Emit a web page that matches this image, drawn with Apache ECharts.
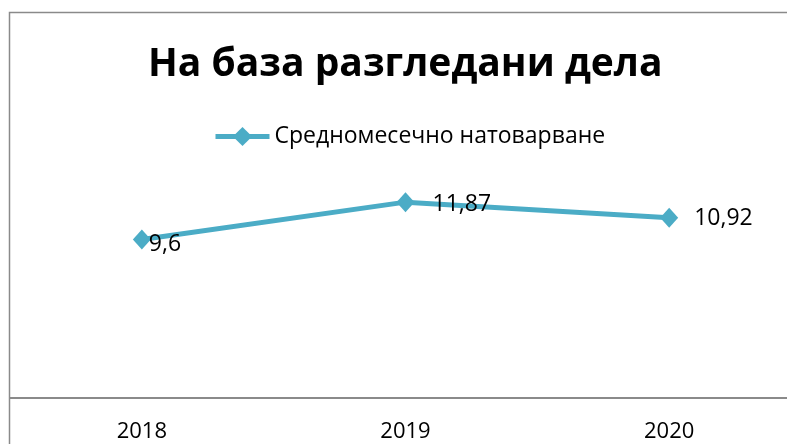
<!DOCTYPE html>
<html>
<head>
<meta charset="utf-8">
<script src="https://cdn.jsdelivr.net/npm/echarts@6/dist/echarts.min.js"></script>
<style>
  html, body { margin: 0; padding: 0; background: #fff; }
  #chart { width: 787px; height: 444px; }
</style>
</head>
<body>
<div id="chart"></div>
<script>
const years = ["2018", "2019", "2020"];
const loadValues = [9.6, 11.87, 10.92];
const seriesName = "Средномесечно натоварване";
const chartTitle = "На база разгледани дела";

const fontFamily = "'Open Sans', 'Noto Sans', sans-serif";
const lineColor = "#4BACC6";

// excel places the labels a bit unevenly
const labelPlacement = [
    { distance: -2, offset: [0, 5] },
    { distance: 18, offset: [0, 2] },
    { distance: 16, offset: [0, 1] }
];

const chart = echarts.init(document.getElementById("chart"));

const option = {
    backgroundColor: "#ffffff",
    animation: false,
    title: {
        text: chartTitle,
        left: 143,
        top: 40,
        textStyle: {
            fontFamily: fontFamily,
            fontWeight: "bold",
            fontSize: 39,
            color: "#000"
        }
    },
    legend: {
        top: 120,
        left: 208,
        itemWidth: 54,
        itemHeight: 24,
        itemGap: 4,
        lineStyle: { width: 5 },
        textStyle: {
            fontFamily: fontFamily,
            fontSize: 23,
            color: "#000"
        },
        data: [seriesName]
    },
    grid: {
        left: 10,
        width: 791,
        top: 167,
        bottom: 46,
        outerBoundsMode: "none",
        containLabel: false
    },
    graphic: [{
        type: "rect",
        silent: true,
        shape: { x: 9.5, y: 12.5, width: 900, height: 600 },
        style: { fill: "none", stroke: "#8a8a8a", lineWidth: 1.5 }
    }],
    xAxis: {
        type: "category",
        data: years,
        boundaryGap: true,
        axisLine: { show: true, lineStyle: { color: "#8a8a8a", width: 2 } },
        axisTick: { show: false },
        axisLabel: {
            margin: 23,
            fontFamily: fontFamily,
            fontSize: 22,
            color: "#000"
        },
        splitLine: { show: false }
    },
    yAxis: {
        type: "value",
        min: 0,
        max: 14,
        show: false
    },
    series: [{
        type: "line",
        name: seriesName,
        data: loadValues.map((v, i) => ({
            value: v,
            label: labelPlacement[i]
        })),
        symbol: "diamond",
        symbolSize: [18, 20],
        itemStyle: { color: lineColor },
        lineStyle: { color: lineColor, width: 5 },
        label: {
            show: true,
            position: "right",
            fontFamily: fontFamily,
            fontSize: 23,
            color: "#000",
            formatter: p => String(p.value).replace(".", ",")
        }
    }]
};

chart.setOption(option);
</script>
</body>
</html>
